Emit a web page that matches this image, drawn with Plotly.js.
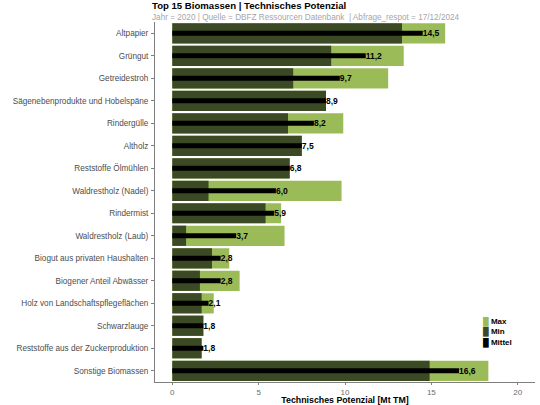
<!DOCTYPE html>
<html>
<head>
<meta charset="utf-8">
<script src="https://cdn.plot.ly/plotly-3.0.1.min.js"></script>
<style>
	html, body { margin: 0; padding: 0; background: #fff; }
	#chart { width: 540px; height: 405px; }
</style>
</head>
<body>
<div id="chart"></div>
<script>
'use strict';

// Biomassen, von oben nach unten
const biomassen = [
	'Altpapier', 'Grüngut', 'Getreidestroh', 'Sägenebenprodukte und Hobelspäne',
	'Rindergülle', 'Altholz', 'Reststoffe Ölmühlen', 'Waldrestholz (Nadel)',
	'Rindermist', 'Waldrestholz (Laub)', 'Biogut aus privaten Haushalten',
	'Biogener Anteil Abwässer', 'Holz von Landschaftspflegeflächen', 'Schwarzlauge',
	'Reststoffe aus der Zuckerproduktion', 'Sonstige Biomassen'
];

// Technisches Potenzial [Mt TM]
const potMax = [15.8, 13.4, 12.5, 8.9, 9.9, 7.5, 6.8, 9.8, 6.3, 6.5, 3.3, 3.9, 2.4, 1.8, 1.7, 18.3];
const potMin = [13.3, 9.2, 7.0, 8.9, 6.7, 7.5, 6.8, 2.1, 5.4, 0.8, 2.3, 1.6, 1.7, 1.8, 1.7, 14.9];
const potMittel = [14.5, 11.2, 9.7, 8.9, 8.2, 7.5, 6.8, 6.0, 5.9, 3.7, 2.8, 2.8, 2.1, 1.8, 1.8, 16.6];

const xTicks = [0, 5, 10, 15, 20];

const legendNames = ['Max', 'Min', 'Mittel'];

const font = 'Liberation Sans, Arial, sans-serif';
const lightGreen = '#9bbb59';
const darkGreen = '#3b4a25';
const legendColors = [lightGreen, darkGreen, '#000000'];

const traceMax = {
	type: 'bar', orientation: 'h', name: legendNames[0],
	y: biomassen, x: potMax, width: 0.9,
	marker: { color: lightGreen, line: { width: 0 } }
};

const traceMin = {
	type: 'bar', orientation: 'h', name: legendNames[1],
	y: biomassen, x: potMin, width: 0.9,
	marker: { color: darkGreen, line: { width: 0 } }
};

const traceMittel = {
	type: 'bar', orientation: 'h', name: legendNames[2],
	y: biomassen, x: potMittel, width: 0.22,
	marker: { color: '#000000', line: { width: 0 } },
	texttemplate: '%{x:.1f}', textposition: 'outside',
	constraintext: 'none', cliponaxis: false,
	textfont: { family: font, size: 8.5, color: '#000000', weight: 'bold' }
};

// kompakte Legende wie im Original: Farbfelder direkt untereinander
const legendText = legendNames.map(function(name, i) {
	return '<span style="color:' + legendColors[i] + '">█</span> <b>' + name + '</b>';
}).join('<br>');

const layout = {
	width: 540, height: 405,
	margin: { l: 155, r: 5, t: 22, b: 23, autoexpand: false },
	paper_bgcolor: '#ffffff', plot_bgcolor: '#ffffff',
	barmode: 'overlay',
	separators: ',.',
	hovermode: false,
	showlegend: false,
	font: { family: font, size: 8.2, color: '#4d4d4d' },
	xaxis: {
		range: [-1, 21],
		tickvals: xTicks,
		ticks: 'outside', ticklen: 2, tickcolor: '#7f7f7f',
		showline: true, linecolor: '#7f7f7f', linewidth: 1,
		showgrid: false, zeroline: false,
		tickfont: { family: font, size: 8, color: '#6b6b6b' },
		title: {
			text: '<b>Technisches Potenzial [Mt TM]</b>',
			font: { family: font, size: 8.8, color: '#000000' }
		}
	},
	yaxis: {
		autorange: 'reversed',
		type: 'category',
		ticks: 'outside', ticklen: 3, tickcolor: '#7f7f7f',
		ticklabelstandoff: 1,
		showline: true, linecolor: '#7f7f7f', linewidth: 1,
		showgrid: false, zeroline: false,
		tickfont: { family: font, size: 8.2, color: '#4d4d4d' }
	},
	annotations: [
		{
			text: '<b>Top 15 Biomassen | Technisches Potenzial</b>',
			xref: 'paper', yref: 'paper', x: -5 / 380, y: 1 + (22 - 6) / 360,
			xanchor: 'left', yanchor: 'middle', showarrow: false,
			font: { family: font, size: 9.6, color: '#000000' }
		},
		{
			text: 'Jahr = 2020 | Quelle = DBFZ Ressourcen Datenbank  | Abfrage_respot = 17/12/2024',
			xref: 'paper', yref: 'paper', x: -5 / 380, y: 1 + (22 - 17) / 360,
			xanchor: 'left', yanchor: 'middle', showarrow: false,
			font: { family: font, size: 8.2, color: '#a6a6a6' }
		},
		{
			text: legendText,
			xref: 'paper', yref: 'paper', x: (481 - 155) / 380, y: (382 - 314) / 360,
			xanchor: 'left', yanchor: 'top', align: 'left', showarrow: false,
			font: { family: font, size: 8, color: '#000000' }
		}
	]
};

Plotly.newPlot('chart', [traceMax, traceMin, traceMittel], layout, { staticPlot: true, displayModeBar: false });
</script>
</body>
</html>
